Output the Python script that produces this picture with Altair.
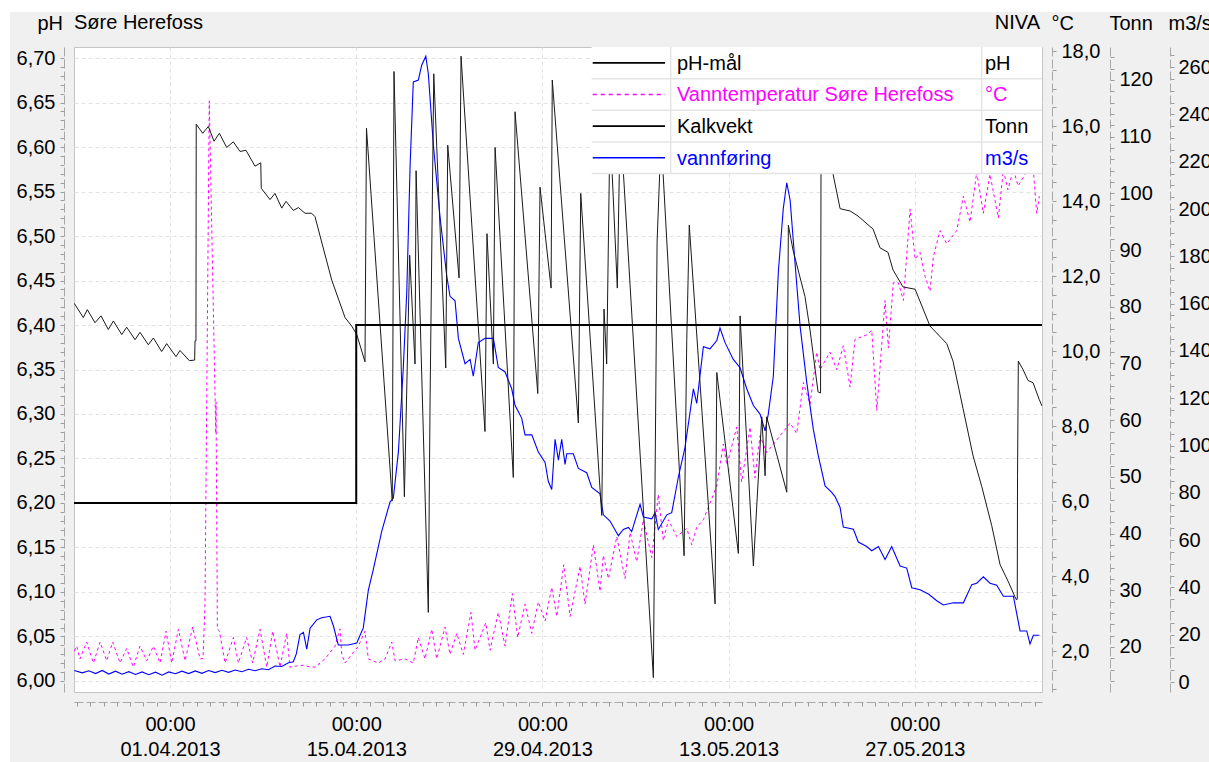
import altair as alt
import pandas as pd

# ---------------- data (x = days since 01.04.2013 00:00) ----------------
ph_days = [-7.22, 14.0, 14.0, 65.56]
ph_vals = [6.20, 6.20, 6.40, 6.40]

temp_days = [-7.2, -7.02, -6.77, -6.27, -5.76, -5.26, -4.76, -4.31, -3.76, -3.26, -2.76, -2.26,
             -1.75, -1.25, -0.75, -0.3, 0.13, 0.63, 1.13, 1.7, 2.26, 2.48, 2.63, 2.95, 3.44, 3.46,
             3.56, 3.71, 4.14, 4.76, 5.14, 5.76, 6.21, 6.77, 7.27, 7.72, 8.27, 8.77, 9.02, 9.5,
             10.0, 10.5, 10.9, 11.65, 12.41, 12.78, 12.91, 13.16, 13.66, 14.16, 14.66, 14.91,
             15.66, 16.17, 16.67, 16.92, 17.67, 18.29, 18.67, 19.17, 19.68, 20.05, 20.68, 21.05,
             21.56, 22.05, 22.63, 22.93, 23.74, 24.06, 24.68, 25.19, 25.74, 26.14, 26.69, 27.2,
             27.69, 28.2, 28.7, 29.08, 29.6, 30.08, 30.83, 31.2, 31.83, 32.33, 32.58, 32.96,
             33.59, 34.21, 34.59, 35.09, 35.59, 36.22, 36.71, 37.09, 37.47, 38.1, 38.85, 39.23,
             39.6, 40.1, 41.11, 41.6, 41.86, 42.61, 42.98, 43.61, 43.98, 44.36, 44.86, 45.62,
             46.62, 47.12, 47.62, 48.12, 48.62, 48.87, 49.62, 50.13, 50.62, 51.13, 51.5, 52.38,
             52.76, 53.14, 53.76, 54.01, 54.38, 54.76, 55.14, 55.64, 56.02, 56.39, 56.77, 57.14,
             57.39, 57.89, 58.4, 59.15, 59.65, 60.15, 60.65, 61.15, 61.65, 62.28, 62.65, 63.0,
             63.41, 63.76, 64.29, 64.66, 64.91, 65.16, 65.36]
temp_vals = [2.0, 2.13, 1.79, 2.24, 1.68, 2.24, 1.74, 2.24, 1.68, 2.07, 1.57, 2.13,
             1.74, 2.13, 1.68, 2.53, 1.68, 2.58, 1.74, 2.64, 1.79, 1.8, 3.25, 16.67, 7.8, 8.64,
             2.59, 2.53, 1.68, 2.36, 1.68, 2.36, 1.68, 2.58, 1.57, 2.53, 1.57, 2.47, 1.57, 1.6,
             1.62, 1.58, 1.57, 1.79, 2.13, 2.59, 1.91, 1.68, 1.91, 2.13, 2.53, 1.79,
             1.68, 1.79, 2.24, 1.74, 1.79, 1.68, 2.36, 1.79, 2.58, 1.79, 2.64, 1.91,
             2.47, 1.91, 3.03, 2.02, 2.75, 2.02, 3.03, 2.13, 3.53, 2.36, 3.25, 2.47,
             3.31, 2.8, 3.7, 2.92, 4.3, 2.92, 4.26, 3.25, 4.83, 3.59, 4.55, 3.93,
             5.05, 3.93, 5.16, 4.38, 5.5, 4.49, 6.17, 4.94, 5.5, 5.05, 5.27, 4.83,
             5.3, 5.5, 6.4, 7.52, 6.96, 7.97, 6.51, 7.97, 6.62, 7.74, 7.29, 7.63,
             8.08, 7.8, 9.16, 8.58, 9.97, 9.5, 9.97, 9.5, 10.14, 9.04, 10.31, 10.43,
             10.55, 8.41, 11.35, 10.08, 11.82, 11.82, 11.35, 13.78, 12.45, 12.63, 11.99, 11.59,
             12.51, 13.21, 12.86, 13.21, 14.13, 13.44, 14.77, 13.67, 14.71, 13.55, 14.82, 14.3,
             14.85, 14.4, 14.71, 14.9, 14.82, 13.67, 14.13]

kalk_days = [-7.2, -6.52, -6.22, -5.64, -5.19, -4.64, -4.26, -3.63, -3.26, -2.63, -2.26, -1.63,
             -1.25, -0.63, -0.25, 0.45, 0.75, 1.45, 1.85, 1.88, 1.95, 1.97, 2.46, 2.88, 3.31,
             3.71, 4.26, 4.76, 5.26, 5.71, 6.39, 6.82, 6.86, 7.52, 7.89, 8.4, 8.72, 9.27, 9.65,
             10.15, 10.65, 10.9, 11.28, 12.16, 13.16, 13.66, 14.04, 14.66, 14.77, 16.71, 16.84,
             17.62, 18.02, 18.42, 18.5, 19.42, 19.55, 19.83, 20.73, 20.88, 21.73, 21.88, 23.68,
             23.83, 24.31, 24.44, 25.81, 25.94, 27.65, 27.82, 28.65, 28.74, 30.7, 30.88, 32.46,
             32.63, 32.83, 33.08, 33.63, 33.85, 36.34, 36.62, 36.92, 38.65, 38.85, 39.04, 40.98,
             41.11, 42.73, 42.86, 43.86, 44.49, 44.74, 44.86, 46.37, 46.49, 46.84, 47.74, 48.12,
             48.72, 48.91, 48.95, 49.79, 50.38, 51.13, 51.73, 52.86, 53.38, 53.98, 54.36, 55.11,
             56.02, 57.14, 58.4, 58.87, 59.62, 60.38, 61.03, 61.78, 62.41, 63.03, 63.61, 63.7,
             63.72, 63.78, 64.14, 64.51, 64.89, 65.36, 65.56]
kalk_vals = [80.6, 78.1, 79.5, 77.2, 78.4, 76.0, 77.5, 75.1, 76.4, 74.2, 75.5, 73.3,
             74.5, 72.1, 73.5, 71.2, 72.3, 70.5, 70.6, 74.0, 74.0, 112.2, 110.6, 111.8, 109.2,
             110.6, 108.1, 109.1, 107.4, 107.6, 104.8, 105.4, 100.9, 98.9, 100.0, 97.4, 98.6, 97.0, 97.5,
             96.5, 96.5, 95.9, 92.5, 84.7, 78.1, 76.6, 75.1, 70.3, 111.5, 45.8, 121.5,
             46.5, 89.1, 69.9, 104.0, 26.1, 63.2, 121.1, 69.2, 108.5, 85.1, 124.2, 58.0,
             92.9, 69.9, 108.1, 49.9, 114.4, 64.7, 101.1, 83.3, 120.0, 59.5, 100.0, 43.2,
             79.6, 69.9, 112.0, 83.3, 113.0, 14.6, 91.4, 110.0, 36.1, 74.0, 94.4, 27.6,
             68.4, 36.5, 78.4, 34.3, 60.6, 50.2, 60.6, 47.3, 94.4, 90.0, 81.8, 75.9,
             65.0, 64.8, 110.0, 104.1, 97.3, 96.9, 96.0, 93.7, 90.4, 89.6, 86.5, 83.5,
             83.1, 76.6, 73.5, 70.4, 62.1, 53.7, 48.3, 41.4, 34.5, 31.5, 28.4, 28.4,
             50.0, 70.4, 68.9, 67.0, 66.6, 63.6, 62.5]

flow_days = [-7.2, -6.6, -6.1, -5.6, -5.1, -4.6, -4.1, -3.6, -3.1, -2.6, -2.1, -1.6, -1.1, -0.6,
             -0.1, 0.4, 0.9, 1.4, 1.9, 2.4, 2.9, 3.4, 3.9, 4.4, 4.9, 5.4, 5.9, 6.4, 6.9, 7.4, 7.9,
             8.4, 8.9, 9.27, 9.5, 9.77, 10.03, 10.28, 10.53, 11.03, 11.41, 12.03, 12.28, 12.65,
             13.41, 14.04, 14.53, 14.91, 15.29, 15.92, 16.54, 16.79, 17.17, 17.54, 17.8, 18.05,
             18.29, 18.67, 18.92, 19.23, 19.42, 19.8, 20.3, 20.8, 21.05, 21.43, 21.68, 22.18,
             22.56, 22.8, 23.18, 23.68, 24.31, 24.68, 25.19, 25.69, 25.94, 26.44, 26.69, 27.2,
             27.69, 28.2, 28.44, 28.7, 28.95, 29.2, 29.45, 29.7, 29.83, 30.32, 30.7, 31.33,
             31.71, 32.33, 32.58, 33.08, 33.71, 34.08, 34.46, 34.71, 35.34, 35.59, 36.22, 36.47,
             36.71, 37.35, 37.72, 38.22, 38.72, 39.35, 39.6, 40.1, 40.6, 41.11, 41.35, 41.73,
             42.35, 42.86, 43.36, 43.86, 44.36, 44.74, 44.98, 45.36, 45.74, 46.11, 46.37, 46.62,
             46.99, 47.37, 47.87, 48.37, 48.74, 49.25, 49.75, 50.0, 50.38, 50.62, 51.38, 51.75,
             52.38, 52.76, 53.26, 53.76, 54.26, 54.89, 55.39, 55.77, 56.39, 57.02, 57.65, 58.14,
             58.9, 59.65, 60.28, 60.65, 61.15, 61.65, 62.16, 62.65, 63.41, 63.91, 64.41, 64.66,
             64.91, 65.36]
flow_vals = [4.9, 3.9, 4.8, 3.6, 4.9, 3.4, 4.6, 3.3, 4.4, 3.2, 4.3, 3.1, 4.2, 2.9,
             4.3, 3.5, 4.6, 3.6, 4.7, 3.7, 4.9, 4.0, 5.0, 4.1, 5.1, 4.4, 5.4, 4.8, 5.6, 5.2, 6.8,
             6.6, 8.2, 8.6, 12.0, 20.1, 21.0, 13.9, 22.8, 26.3, 27.2, 27.8, 23.8, 15.7,
             15.7, 16.5, 22.9, 38.9, 47.8, 63.8, 76.1, 77.8, 97.3, 133.0, 164.9, 218.2,
             253.7, 254.5, 260.8, 264.6, 257.2, 227.1, 196.7, 171.9, 163.1, 161.2, 145.3, 134.6,
             136.4, 129.3, 143.5, 145.3, 145.3, 133.0, 131.1, 124.0, 117.0, 111.6, 104.5, 104.5,
             97.3, 92.9, 84.9, 81.4, 102.6, 93.8, 102.6, 92.0, 96.5, 96.5, 90.3, 88.5,
             82.3, 79.6, 70.7, 68.1, 61.9, 64.5, 65.4, 63.6, 75.2, 69.8, 69.0, 71.6,
             64.5, 70.7, 71.6, 86.7, 99.2, 124.0, 117.8, 141.8, 140.9, 144.4, 149.7, 143.5,
             136.4, 132.9, 124.0, 116.9, 113.3, 106.2, 113.3, 129.3, 173.7, 200.3, 211.1, 203.9,
             177.3, 150.6, 126.8, 106.7, 95.7, 82.9, 80.2, 78.4, 73.8, 65.5, 64.6, 59.2,
             57.3, 55.5, 57.3, 51.8, 57.3, 49.1, 48.2, 39.9, 39.0, 37.2, 34.4, 32.6,
             33.5, 33.5, 41.2, 41.8, 44.5, 41.8, 40.9, 36.3, 36.3, 21.6, 21.6, 16.1,
             19.8, 19.8]

legend_names = ["pH-mål", "Vanntemperatur Søre Herefoss", "Kalkvekt", "vannføring"]
legend_units = ["pH", "°C", "Tonn", "m3/s"]
legend_colors = ["#000000", "#ff00ff", "#000000", "#0000ff"]

x_ticks = list(range(-7, 66))
ph_ticks = [round(6.0 + 0.01 * i, 2) for i in range(71)]
temp_ticks = [1.0 + 0.5 * i for i in range(35)]
tonn_ticks = list(range(14, 125, 2))
flow_ticks = list(range(0, 266, 5))

# ---------------- layout / style ----------------
W, H = 968, 645
FONT = "Liberation Sans"
FS = 20


def df(days, vals):
    return pd.DataFrame({"d": days, "v": vals, "i": list(range(len(days)))})


def axis(**kw):
    base = dict(labelFont=FONT, labelFontSize=FS, labelColor="black", tickColor="#9c9c9c",
                tickSize=4, domainColor="#a8a8a8", domainDash=[9, 3], labelOverlap=False,
                titleFont=FONT, titleFontSize=FS, titleFontWeight="normal", titleColor="black",
                titleAngle=0, titleAlign="left", titleBaseline="alphabetic", titleY=-18,
                grid=False)
    base.update(kw)
    return alt.Axis(**base)


x_major = "datum.value % 14 == 0"
x_axis = axis(
    orient="bottom", offset=10, values=x_ticks, title="",
    labelExpr=(x_major + " ? [utcFormat(1364774400000 + datum.value*86400000, '%H:%M'), "
               "utcFormat(1364774400000 + datum.value*86400000, '%d.%m.%Y')] : ''"),
    labelLineHeight=25, labelPadding=8, labelBaseline="top",
    grid=True, gridColor="#e2e2e2", gridDash=[4, 3],
    gridOpacity={"condition": {"test": x_major, "value": 1}, "value": 0},
)
x_scale = alt.Scale(domain=[-7.22, 65.56], nice=False, zero=False)
X = alt.X("d:Q", scale=x_scale, axis=x_axis)

ph_major = "abs(datum.value*20 - round(datum.value*20)) < 0.0001"
ph_axis = axis(
    orient="left", offset=10, values=ph_ticks, title="pH", titleX=-27, labelPadding=5,
    labelExpr=ph_major + " ? replace(format(datum.value, '.2f'), '.', ',') : ''",
    grid=True, gridColor="#e2e2e2", gridDash=[4, 3],
    gridOpacity={"condition": {"test": ph_major, "value": 1}, "value": 0},
)
t_major = "abs(datum.value/2 - round(datum.value/2)) < 0.0001"
temp_axis = axis(
    orient="right", offset=10, values=temp_ticks, title="°C", titleX=-1, labelPadding=5,
    labelExpr=t_major + " ? replace(format(datum.value, '.1f'), '.', ',') : ''",
)
tonn_axis = axis(
    orient="right", offset=68, values=tonn_ticks, title="Tonn", titleX=-1, labelPadding=5,
    labelExpr="datum.value % 10 == 0 ? format(datum.value, 'd') : ''",
)
flow_axis = axis(
    orient="right", offset=128, values=flow_ticks, title="m3/s", titleX=-2, labelPadding=4,
    labelExpr="datum.value % 20 == 0 ? format(datum.value, 'd') : ''",
)

one = pd.DataFrame({"a": [0]})
layers = []

# white page strips around the grey panel
layers.append(alt.Chart(one).mark_rect(fill="white").encode(
    x=alt.value(-74), x2=alt.value(1135), y=alt.value(-47), y2=alt.value(-35)))
layers.append(alt.Chart(one).mark_rect(fill="white").encode(
    x=alt.value(-74), x2=alt.value(-64), y=alt.value(-47), y2=alt.value(715)))

temp_layer = alt.Chart(df(temp_days, temp_vals)).mark_line(
    color="#ff00ff", strokeWidth=1, strokeDash=[3, 3], clip=True).encode(
    x=X, y=alt.Y("v:Q", scale=alt.Scale(domain=[0.907, 18.107], nice=False, zero=False), axis=temp_axis),
    order="i:Q")
flow_layer = alt.Chart(df(flow_days, flow_vals)).mark_line(
    color="#0000ff", strokeWidth=1.1, clip=True).encode(
    x=X, y=alt.Y("v:Q", scale=alt.Scale(domain=[-4.2, 268.5], nice=False, zero=False), axis=flow_axis),
    order="i:Q")
kalk_layer = alt.Chart(df(kalk_days, kalk_vals)).mark_line(
    color="#1a1a1a", strokeWidth=1, clip=True).encode(
    x=X, y=alt.Y("v:Q", scale=alt.Scale(domain=[12.06, 125.82], nice=False, zero=False), axis=tonn_axis),
    order="i:Q")
ph_layer = alt.Chart(df(ph_days, ph_vals)).mark_line(
    color="#000000", strokeWidth=2, clip=True).encode(
    x=X, y=alt.Y("v:Q", scale=alt.Scale(domain=[5.9876, 6.7124], nice=False, zero=False), axis=ph_axis),
    order="i:Q")
layers += [temp_layer, flow_layer, kalk_layer, ph_layer]

# ---------------- legend box ----------------
LX0, LX1, LC1, LC2 = 517.7, 968, 596.7, 907.7
RH = 31.65
SEP = "#e4e4e4"
layers.append(alt.Chart(one).mark_rect(fill="white").encode(
    x=alt.value(LX0), x2=alt.value(LX1), y=alt.value(0), y2=alt.value(4 * RH)))
for k in range(1, 5):
    layers.append(alt.Chart(one).mark_rule(color=SEP, strokeWidth=1.5).encode(
        x=alt.value(LX0), x2=alt.value(LX1), y=alt.value(k * RH)))
for cx in (LC1, LC2):
    layers.append(alt.Chart(one).mark_rule(color=SEP, strokeWidth=1.5).encode(
        x=alt.value(cx), y=alt.value(0), y2=alt.value(4 * RH)))
for k, (nm, un, col) in enumerate(zip(legend_names, legend_units, legend_colors)):
    cy = RH * k + RH / 2
    rule_kw = dict(color=col, strokeWidth=1.6)
    if k == 1:
        rule_kw["strokeDash"] = [4, 4]
    layers.append(alt.Chart(one).mark_rule(**rule_kw).encode(
        x=alt.value(LX0 + 1), x2=alt.value(591), y=alt.value(cy)))
    layers.append(alt.Chart(one).mark_text(
        align="left", baseline="middle", font=FONT, fontSize=FS, color=col).encode(
        x=alt.value(603), y=alt.value(cy + 1), text=alt.value(nm)))
    layers.append(alt.Chart(one).mark_text(
        align="left", baseline="middle", font=FONT, fontSize=FS, color=col).encode(
        x=alt.value(911), y=alt.value(cy + 1), text=alt.value(un)))

# station names above the plot
layers.append(alt.Chart(one).mark_text(
    align="left", baseline="alphabetic", font=FONT, fontSize=FS, color="black").encode(
    x=alt.value(0), y=alt.value(-18), text=alt.value("Søre Herefoss")))
layers.append(alt.Chart(one).mark_text(
    align="right", baseline="alphabetic", font=FONT, fontSize=FS, color="black").encode(
    x=alt.value(966), y=alt.value(-18), text=alt.value("NIVA")))

chart = alt.layer(*layers).resolve_scale(y="independent").properties(
    width=W, height=H,
    padding={"left": 74, "top": 47, "right": 167, "bottom": 70},
    autosize=alt.AutoSizeParams(type="none"),
).configure(background="#f0f0f0").configure_view(fill="white", stroke="#c4c4c4")

chart.save("out.html", embed_options={"renderer": "svg", "actions": False})
